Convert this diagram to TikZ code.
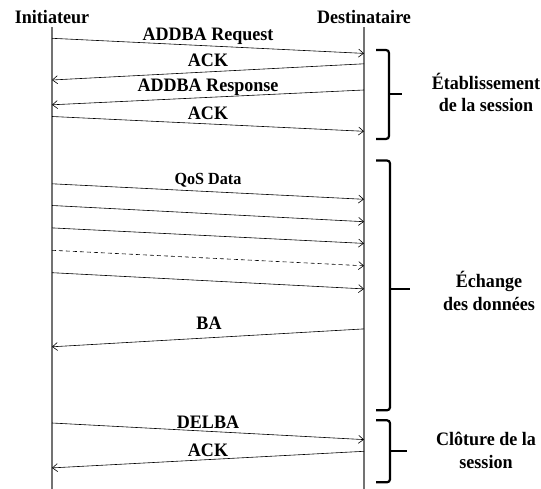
\documentclass[tikz,border=0pt]{standalone}
\usepackage{fontspec}
\setmainfont{Liberation Serif}[FakeStretch=0.95]
\usetikzlibrary{arrows.meta}
\begin{document}
\begin{tikzpicture}[x=1pt,y=-1pt,
  lifeline/.style={draw=black!55, line width=1.1pt},
  msg/.style={draw=black, line width=0.6pt, -{Straight Barb[length=5pt,width=8pt]}},
  lbl/.style={font=\fontsize{19}{22}\selectfont\bfseries, anchor=base, inner sep=0pt},
  qlbl/.style={lbl, font=\fontsize{17}{20}\selectfont\bfseries},
  grp/.style={font=\fontsize{19}{22.5}\selectfont\bfseries, align=center, inner sep=0pt, anchor=base},
  bracestyle/.style={draw=black, line width=2.2pt, rounded corners=3pt}]
\useasboundingbox (0,0) rectangle (541,489);
% headers and lifelines
\node[lbl] (I) at (52,24) {Initiateur};
\node[lbl] (D) at (364,24) {Destinataire};
\coordinate (Itop) at (52,27.5);
\coordinate (Ibot) at (52,489);
\coordinate (Dtop) at (364,27.5);
\coordinate (Dbot) at (364,489);
\draw[lifeline] (Itop) -- (Ibot);
\draw[lifeline] (Dtop) -- (Dbot);
% session setup
\coordinate (m1s) at (52,38.3);  \coordinate (m1e) at (364,53.4);
\coordinate (m2s) at (364,63.8); \coordinate (m2e) at (52,80);
\coordinate (m3s) at (364,90);   \coordinate (m3e) at (52,104.8);
\coordinate (m4s) at (52,116.5); \coordinate (m4e) at (364,131.3);
\draw[msg] (m1s) -- (m1e);
\draw[msg] (m2s) -- (m2e);
\draw[msg] (m3s) -- (m3e);
\draw[msg] (m4s) -- (m4e);
\node[lbl] (l1) at (208,41) {ADDBA Request};
\node[lbl] (l2) at (208,67) {ACK};
\node[lbl] (l3) at (208,91.5) {ADDBA Response};
\node[lbl] (l4) at (208,120) {ACK};
% data exchange
\coordinate (q1s) at (52,183.8); \coordinate (q1e) at (364,199.3);
\coordinate (q2s) at (52,205.5); \coordinate (q2e) at (364,221.7);
\coordinate (q3s) at (52,227.9); \coordinate (q3e) at (364,243.4);
\coordinate (q4s) at (52,250.3); \coordinate (q4e) at (364,265.8);
\coordinate (q5s) at (52,272.7); \coordinate (q5e) at (364,288.9);
\coordinate (bas) at (364,328.9); \coordinate (bae) at (52,346.8);
\draw[msg] (q1s) -- (q1e);
\draw[msg] (q2s) -- (q2e);
\draw[msg] (q3s) -- (q3e);
\draw[msg, dash pattern=on 4pt off 3pt] (q4s) -- (q4e);
\draw[msg] (q5s) -- (q5e);
\draw[msg] (bas) -- (bae);
\node[qlbl] (lq) at (208,185) {QoS Data};
\node[lbl] (lba) at (209,329) {BA};
% teardown
\coordinate (d1s) at (52,423);    \coordinate (d1e) at (364,439.6);
\coordinate (d2s) at (364,451.3); \coordinate (d2e) at (52,467.9);
\draw[msg] (d1s) -- (d1e);
\draw[msg] (d2s) -- (d2e);
\node[lbl] (ld) at (208,428) {DELBA};
\node[lbl] (la) at (208,456.5) {ACK};
% braces
\draw[bracestyle] (376,50) -- (389,50) -- (389,139) -- (376,139);
\draw[bracestyle] (389,94) -- (402,94);
\draw[bracestyle] (376,160.5) -- (390,160.5) -- (390,410.3) -- (376,410.3);
\draw[bracestyle] (390,289) -- (410,289);
\draw[bracestyle] (376,420.3) -- (390,420.3) -- (390,482.3) -- (376,482.3);
\draw[bracestyle] (390,451.3) -- (407,451.3);
% group labels
\node[grp] (g1) at (486,112) {Établissement\\de la session};
\node[grp] (g2) at (489,310) {Échange\\des données};
\node[grp] (g3) at (486,468) {Clôture de la\\session};
\end{tikzpicture}
\end{document}
